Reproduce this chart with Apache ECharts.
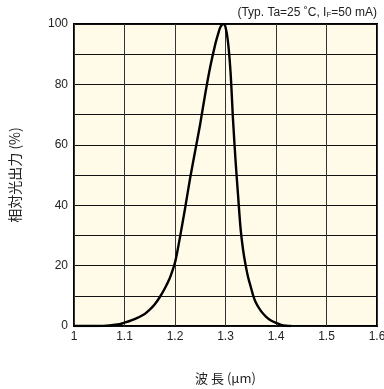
<!DOCTYPE html>
<html>
<head>
<meta charset="utf-8">
<script src="https://cdn.jsdelivr.net/npm/echarts@6/dist/echarts.min.js"></script>
<style>
  html, body { margin: 0; padding: 0; background: #fff; }
  #main { width: 384px; height: 389px; }
</style>
</head>
<body>
<div id="main"></div>
<script>
// wavelength (um) and relative optical output (%)
var wavelength = [1.00, 1.05, 1.07, 1.09, 1.10, 1.12, 1.14, 1.15, 1.16, 1.17, 1.18, 1.19, 1.195, 1.20,
                  1.205, 1.21, 1.22, 1.23, 1.24, 1.25, 1.26, 1.27, 1.28, 1.285, 1.29, 1.296,
                  1.30, 1.305, 1.31, 1.315, 1.32, 1.325, 1.33, 1.335, 1.34, 1.345, 1.35,
                  1.355, 1.36, 1.37, 1.38, 1.39, 1.40, 1.41, 1.42, 1.43];
var output = [0, 0, 0.2, 0.6, 1.1, 2.3, 4.0, 5.4, 7.2, 9.6, 12.5, 16, 18.3, 21,
              25, 29.5, 39, 49, 58, 67, 77, 86, 93.5, 96.5, 99, 100,
              99, 94, 84, 68, 54.5, 43, 32, 25, 20, 16, 13,
              10, 7.8, 5.0, 3.1, 1.8, 1.0, 0.4, 0.1, 0];
var xTickLabels = ['1', '1.1', '1.2', '1.3', '1.4', '1.5', '1.6'];
var yTickLabels = ['0', '20', '40', '60', '80', '100'];

var font = '"Liberation Sans", Arial, sans-serif';
var cjk = '"Noto Sans CJK JP", sans-serif';

var myChart = echarts.init(document.getElementById('main'));

var option = {
    animation: false,
    grid: {
        left: 74,
        right: 7,
        top: 24,
        bottom: 63,
        outerBoundsMode: 'none',
        containLabel: false,
        show: true,
        backgroundColor: '#fffbe8',
        borderColor: '#000',
        borderWidth: 2
    },
    graphic: [{
        type: 'text',
        right: 7,
        top: 7,
        style: {
            text: '(Typ. Ta=25 ˚C, I{s|F}=50 mA)',
            font: '12px ' + font,
            fill: '#222',
            rich: {
                s: { fontSize: 8, fontFamily: font, fill: '#222', padding: [4, 0, 0, 0] }
            }
        }
    }],
    xAxis: {
        type: 'value',
        min: 1,
        max: 1.6,
        interval: 0.1,
        name: '波 長 (μm)',
        nameLocation: 'middle',
        nameGap: 46,
        nameTextStyle: { fontFamily: cjk, fontSize: 13, color: '#222' },
        axisLine: { show: false },
        axisTick: { show: false },
        axisLabel: {
            color: '#222',
            fontFamily: font,
            fontSize: 12,
            margin: 5,
            formatter: function (v) {
                return xTickLabels[Math.round((v - 1) * 10)];
            }
        },
        splitLine: { lineStyle: { color: '#333', width: 1 } }
    },
    yAxis: {
        type: 'value',
        min: 0,
        max: 100,
        interval: 10,
        name: '相対光出力 (%)',
        nameLocation: 'middle',
        nameRotate: 90,
        nameGap: 52,
        nameTextStyle: { fontFamily: cjk, fontSize: 14, color: '#222' },
        axisLine: { show: false },
        axisTick: { show: false },
        axisLabel: {
            color: '#222',
            fontFamily: font,
            fontSize: 12,
            margin: 6,
            formatter: function (v) {
                return v % 20 === 0 ? yTickLabels[v / 20] : '';
            }
        },
        splitLine: { lineStyle: { color: '#111', width: 1 } }
    },
    series: [{
        type: 'line',
        data: wavelength.map(function (x, i) { return [x, output[i]]; }),
        smooth: 0.3,
        showSymbol: false,
        lineStyle: { color: '#000', width: 2.4 }
    }]
};

myChart.setOption(option);
</script>
</body>
</html>
